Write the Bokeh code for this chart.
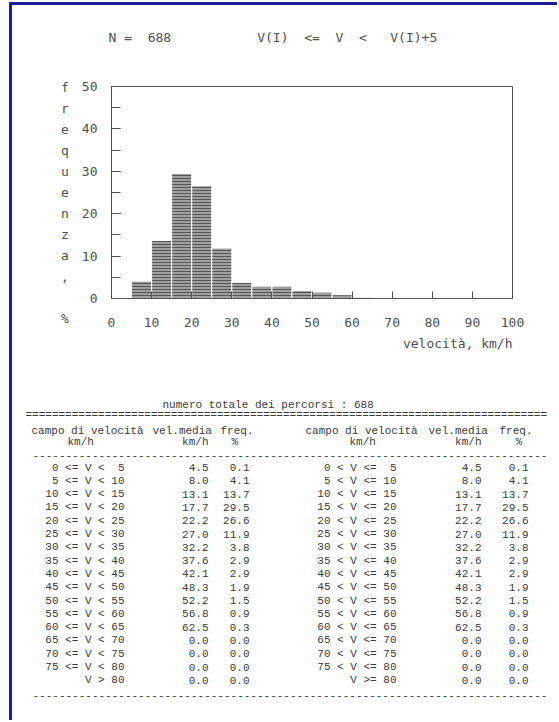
from bokeh.plotting import figure
from bokeh.models import Range1d, SingleIntervalTicker, ColumnDataSource, Title
from bokeh.layouts import column, row
from bokeh.embed import file_html
from bokeh.resources import INLINE
from bokeh.core.properties import value

# ---------------- data ----------------
N_TOTAL = 688
BIN_WIDTH = 5
bin_lo = [0, 5, 10, 15, 20, 25, 30, 35, 40, 45, 50, 55, 60, 65, 70, 75]
freq_pct = [0.1, 4.1, 13.7, 29.5, 26.6, 11.9, 3.8, 2.9, 2.9, 1.9, 1.5, 0.9, 0.3, 0.0, 0.0, 0.0]
vel_media = [4.5, 8.0, 13.1, 17.7, 22.2, 27.0, 32.2, 37.6, 42.1, 48.3, 52.2, 56.8, 62.5, 0.0, 0.0, 0.0, 0.0]
freq_table = [0.1, 4.1, 13.7, 29.5, 26.6, 11.9, 3.8, 2.9, 2.9, 1.9, 1.5, 0.9, 0.3, 0.0, 0.0, 0.0, 0.0]
last_limit = 80
ylabel_letters = ["f", "r", "e", "q", "u", "e", "n", "z", "a", ","]

PLOT_FONT = "DejaVu Sans Mono"
TABLE_FONT = "Liberation Mono"
INK = "#505050"
TINK = "#3a3a3a"
SP = "\u00a0"

W = 545
H1 = 373
H2 = 342
OX, OY = 12, 5  # page position of the layout content

# ---------------- histogram ----------------
p1 = figure(width=W, height=H1, x_range=Range1d(0, 100), y_range=Range1d(0, 50),
            output_backend="svg", toolbar_location=None,
            min_border_left=99, min_border_right=W - 99 - 401, min_border_top=81,
            min_border_bottom=H1 - 81 - 212)
p1.grid.grid_line_color = None
p1.outline_line_color = INK
p1.outline_line_width = 1
p1.background_fill_color = "white"
p1.border_fill_color = "white"

src = ColumnDataSource(dict(left=bin_lo, right=[b + BIN_WIDTH for b in bin_lo], top=freq_pct))
p1.quad(left="left", right="right", bottom=0, top="top", source=src,
        fill_color="#a0a0a0", line_color="white", line_width=1,
        hatch_pattern="horizontal_line", hatch_color="#555555", hatch_scale=3, hatch_weight=1)

xa = p1.xaxis[0]
xa.ticker = SingleIntervalTicker(interval=10, num_minor_ticks=0)
xa.major_tick_in = 7
xa.major_tick_out = 0
xa.minor_tick_line_color = None
xa.axis_line_color = INK
xa.major_tick_line_color = INK
xa.major_label_text_font = PLOT_FONT
xa.major_label_text_font_size = "13px"
xa.major_label_text_color = INK
xa.major_label_standoff = 19

ya = p1.yaxis[0]
ya.ticker = SingleIntervalTicker(interval=10, num_minor_ticks=2)
ya.major_tick_in = 9
ya.major_tick_out = 0
ya.minor_tick_in = 9
ya.minor_tick_out = 0
ya.axis_line_color = INK
ya.major_tick_line_color = INK
ya.minor_tick_line_color = INK
ya.major_label_text_font = PLOT_FONT
ya.major_label_text_font_size = "13px"
ya.major_label_text_color = INK
ya.major_label_standoff = 14

ylab_lines = [SP] + ylabel_letters + [SP, "%"]
ya.axis_label = "\n".join(ylab_lines)
ya.axis_label_orientation = "horizontal"
ya.axis_label_text_font = PLOT_FONT
ya.axis_label_text_font_size = "13px"
ya.axis_label_text_font_style = "normal"
ya.axis_label_text_color = INK
ya.axis_label_text_line_height = 1.40
ya.axis_label_standoff = 10

header = "N =" + SP * 2 + str(N_TOTAL) + SP * 11 + "V(I)" + SP * 2 + "<=" + SP * 2 + "V" + SP * 2 + "<" + SP * 3 + "V(I)+%d" % BIN_WIDTH
t_head = Title(text=header + "\n" + SP, align="left", offset=-3, standoff=36, text_font=PLOT_FONT,
               text_font_size="13px", text_font_style="normal", text_color=INK,
               text_line_height=1.6)
p1.add_layout(t_head, "above")

t_x = Title(text="velocità, km/h", align="right", offset=0, standoff=8, text_font=PLOT_FONT,
            text_font_size="13px", text_font_style="normal", text_color=INK)
p1.add_layout(t_x, "below")

# ---------------- table ----------------
TOP = OY + H1
p2 = figure(width=W, height=H2, x_range=Range1d(OX, OX + W), y_range=Range1d(TOP + H2, TOP),
            output_backend="svg", toolbar_location=None, min_border=0,
            x_axis_location=None, y_axis_location=None)
p2.grid.grid_line_color = None
p2.outline_line_color = None

FS = "11px"


def put(x, y, t, align="left"):
    p2.text(x=[x], y=[y], text=[t.replace(" ", SP)], text_align=align, text_baseline="middle",
            text_font=value(TABLE_FONT), text_font_size=FS, text_color=TINK)


put(162, 404, "numero totale dei percorsi : %d" % N_TOTAL)
put(25, 414, "=" * 79)
put(32, 455, "-" * 78)
put(32, 695, "-" * 78)

# header columns: (left half x, right half x, text, align)
header_cols = [
    (31, 305, 430, "campo di velocità", "left"),
    (67, 349, 441, "km/h", "left"),
    (152, 428, 430, "vel.media", "left"),
    (208, 481, 441, "km/h", "right"),
    (220, 499, 430, "freq.", "left"),
    (231, 515, 441, "%", "left"),
]
for xl, xr, y, t, al in header_cols:
    put(xl, y, t, al)
    put(xr, y, t, al)

n_rows = len(vel_media)
row_y = [467 + 13.3 * i for i in range(n_rows)]
left_rng = [("%2d <= V < %2d" % (lo, lo + BIN_WIDTH)).replace(" ", SP) for lo in bin_lo] + [("V > %d" % last_limit).replace(" ", SP)]
right_rng = [("%2d < V <= %2d" % (lo, lo + BIN_WIDTH)).replace(" ", SP) for lo in bin_lo] + [("V >= %d" % last_limit).replace(" ", SP)]
vel_txt = ["%.1f" % v for v in vel_media]
frq_txt = ["%.1f" % f for f in freq_table]

for rng, xs in ((left_rng, (124, 208, 249)), (right_rng, (396, 481, 528))):
    s = ColumnDataSource(dict(y=row_y, r=rng, v=vel_txt, f=frq_txt))
    for col, x in zip(("r", "v", "f"), xs):
        p2.text(x=x, y="y", text=col, source=s, text_align="right", text_baseline="middle",
                text_font=value(TABLE_FONT), text_font_size=FS, text_color=TINK)

layout = column(row(p1), row(p2), spacing=0, margin=(2, 0, 0, 9),
                styles={"border-left": "3px solid #1c1c9c", "border-top": "3px solid #1c1c9c"})

open("out.html", "w").write(file_html(layout, INLINE))
